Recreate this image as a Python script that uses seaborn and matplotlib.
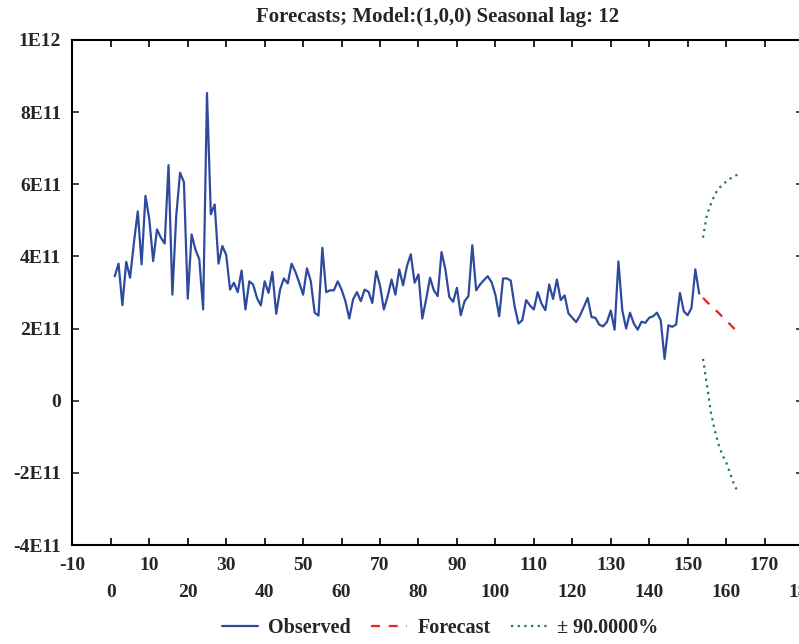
import matplotlib
matplotlib.use('Agg')
import matplotlib.pyplot as plt
import seaborn as sns
import pandas as pd

# Observed series (units of 1E11), t = 1..153
obs_t = list(range(1, 154))
obs_values = [
    3.45, 3.80, 2.65, 3.85, 3.41, 4.38, 5.25, 3.78, 5.68, 5.03,
    3.87, 4.75, 4.52, 4.36, 6.53, 2.94, 5.12, 6.32, 6.06, 2.83,
    4.61, 4.19, 3.92, 2.53, 8.53, 5.17, 5.44, 3.80, 4.29, 4.04,
    3.08, 3.27, 3.01, 3.61, 2.53, 3.31, 3.22, 2.85, 2.64, 3.31,
    2.99, 3.57, 2.41, 3.08, 3.39, 3.25, 3.80, 3.57, 3.27, 2.94,
    3.67, 3.31, 2.44, 2.36, 4.24, 3.01, 3.06, 3.06, 3.31, 3.08,
    2.76, 2.28, 2.81, 3.01, 2.76, 3.08, 3.02, 2.71, 3.59, 3.19,
    2.53, 2.90, 3.36, 2.94, 3.64, 3.20, 3.73, 4.06, 3.27, 3.50,
    2.28, 2.81, 3.41, 3.06, 2.90, 4.12, 3.64, 2.88, 2.74, 3.13,
    2.37, 2.76, 2.90, 4.31, 3.06, 3.22, 3.34, 3.45, 3.29, 2.94,
    2.34, 3.39, 3.39, 3.33, 2.62, 2.14, 2.23, 2.79, 2.64, 2.53,
    3.01, 2.69, 2.51, 3.22, 2.82, 3.36, 2.79, 2.92, 2.42, 2.30,
    2.18, 2.36, 2.60, 2.85, 2.32, 2.30, 2.11, 2.06, 2.18, 2.50,
    1.97, 3.86, 2.51, 2.00, 2.44, 2.14, 1.97, 2.19, 2.16, 2.30,
    2.34, 2.44, 2.23, 1.16, 2.09, 2.05, 2.11, 2.99, 2.48, 2.37,
    2.57, 3.64, 2.97,
]

# Forecast and 90% limits (units of 1E11), t = 154..163
fc_t = list(range(154, 164))
fc_values = [2.85, 2.74, 2.64, 2.54, 2.44, 2.33, 2.22, 2.12, 2.01, 1.90]
upper_values = [4.52, 5.15, 5.44, 5.70, 5.88, 5.98, 6.07, 6.15, 6.22, 6.27]
lower_values = [1.16, 0.45, -0.30, -0.80, -1.20, -1.50, -1.70, -2.00, -2.30, -2.52]

y_ticks = [-4, -2, 0, 2, 4, 6, 8, 10]
y_labels = ['-4E11', '-2E11', '0', '2E11', '4E11', '6E11', '8E11', '1E12']
x_major = [-10, 10, 30, 50, 70, 90, 110, 130, 150, 170]
x_minor = [0, 20, 40, 60, 80, 100, 120, 140, 160, 180]

title = 'Forecasts; Model:(1,0,0) Seasonal lag: 12'

sns.set_style('ticks')
plt.rcParams['font.family'] = ['Liberation Serif', 'DejaVu Serif']
plt.rcParams['font.weight'] = 'bold'
plt.rcParams['axes.unicode_minus'] = False

fig = plt.figure(figsize=(7.99, 6.44), dpi=100)
ax = fig.add_axes([72.4 / 799, 99 / 644, (803 - 72.4) / 799, 505 / 644])

df_obs = pd.DataFrame({'t': obs_t, 'v': obs_values})
df_fc = pd.DataFrame({'t': fc_t, 'fc': fc_values, 'up': upper_values, 'lo': lower_values})

blue = '#2D4A9F'
red = '#E8241E'
green = '#17813B'

sns.lineplot(data=df_obs, x='t', y='v', ax=ax, color=blue, lw=1.6, label='Observed')
sns.lineplot(data=df_fc, x='t', y='fc', ax=ax, color=red, lw=1.6,
             linestyle=(0, (4, 4)), label='Forecast')
sns.lineplot(data=df_fc, x='t', y='up', ax=ax, color=green, lw=1.6,
             linestyle=(0, (1, 2)), label='\u00b1 90.0000%')
sns.lineplot(data=df_fc, x='t', y='lo', ax=ax, color=green, lw=1.6,
             linestyle=(0, (1, 2)), label='_nolegend_')

ax.set_xlim(-10, 180)
ax.set_ylim(-4, 10)
ax.set_xlabel('')
ax.set_ylabel('')

ax.set_xticks(x_major)
ax.set_xticklabels([str(v) for v in x_major])
ax.set_xticks(x_minor, minor=True)
ax.set_xticklabels([str(v) for v in x_minor], minor=True)
ax.set_yticks(y_ticks)
ax.set_yticklabels(y_labels)

ax.tick_params(axis='x', which='both', direction='in', top=True, length=5, width=1.2,
               labelsize=14, color='black')
ax.tick_params(axis='x', which='major', pad=9)
ax.tick_params(axis='x', which='minor', pad=28)
ax.tick_params(axis='y', which='major', direction='in', right=True, length=5, width=1.2,
               labelsize=14, pad=8)
for lab in ax.get_xticklabels(which='both') + ax.get_yticklabels():
    lab.set_fontweight('bold')

for s in ax.spines.values():
    s.set_linewidth(1.5)
    s.set_color('black')

ax.set_title(title, fontsize=15, fontweight='bold', pad=13)

handles, labels = ax.get_legend_handles_labels()
ax.get_legend().remove()
fig.legend(handles, labels, loc='center', bbox_to_anchor=(440 / 799, 1 - 628 / 644),
           ncol=3, frameon=False, prop={'family': 'Liberation Serif', 'weight': 'bold', 'size': 14.5},
           handlelength=1.8, columnspacing=1.0, handletextpad=0.5)

fig.savefig('out.png', dpi=100)
